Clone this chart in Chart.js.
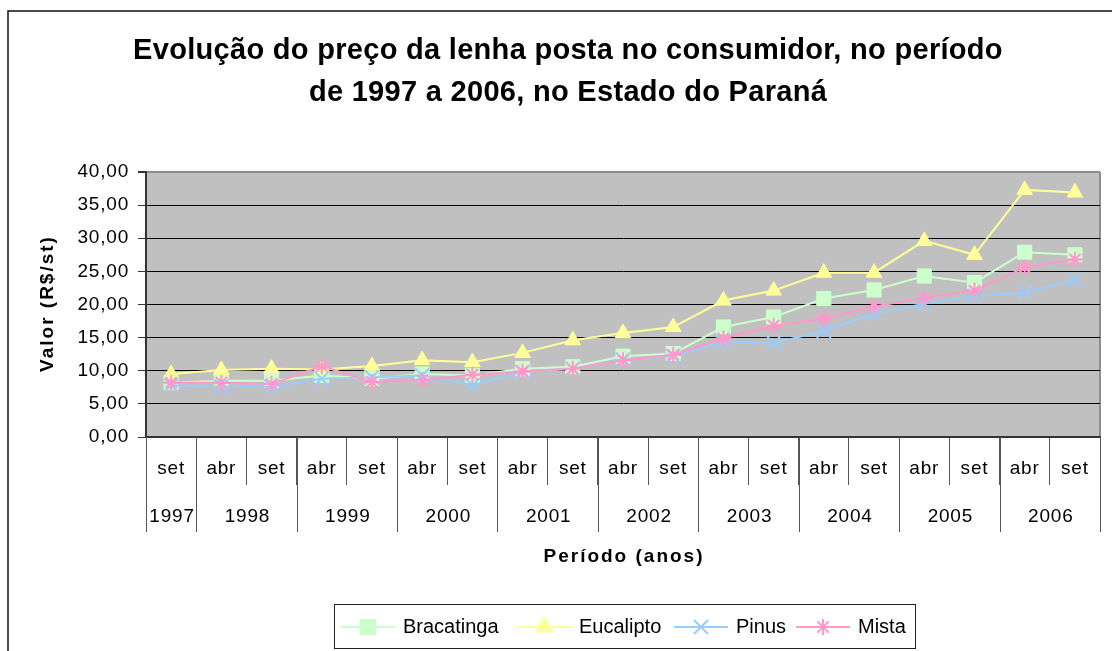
<!DOCTYPE html>
<html>
<head>
<meta charset="utf-8">
<script src="https://cdn.jsdelivr.net/npm/chart.js@4/dist/chart.umd.min.js"></script>
<style>
  body { margin: 0; background: #fff; }
  canvas { display: block; }
</style>
</head>
<body>
<canvas id="chart" width="1112" height="651"></canvas>
<script>
// Chart data
const months = ['set', 'abr', 'set', 'abr', 'set', 'abr', 'set', 'abr', 'set', 'abr',
                'set', 'abr', 'set', 'abr', 'set', 'abr', 'set', 'abr', 'set'];
const years = ['1997', '1998', '1999', '2000', '2001', '2002', '2003', '2004', '2005', '2006'];
const monthsPerYear = [1, 2, 2, 2, 2, 2, 2, 2, 2, 2];

const bracatinga = [8.2, 8.5, 8.5, 9.3, 8.8, 9.5, 9.3, 10.3, 10.6, 12.2, 12.6, 16.6, 18.1, 20.9, 22.2, 24.3, 23.3, 27.9, 27.5];
const eucalipto = [9.5, 10.1, 10.3, 10.2, 10.7, 11.6, 11.3, 12.7, 14.6, 15.7, 16.6, 20.6, 22.1, 24.8, 24.8, 29.6, 27.5, 37.3, 36.9];
const pinus = [7.8, 7.6, 7.6, 8.8, 9.0, 9.3, 7.8, 9.8, 10.3, 11.7, 12.2, 14.4, 14.2, 16.0, 18.6, 20.1, 21.3, 21.8, 23.7];
const mista = [8.2, 8.2, 8.0, 10.7, 8.3, 8.6, 9.4, 9.9, 10.3, 11.6, 12.4, 14.9, 16.8, 17.9, 19.7, 21.0, 22.1, 25.6, 26.8];

const titleLines = ['Evolução do preço da lenha posta no consumidor, no período',
                    'de 1997 a 2006, no Estado do Paraná'];

const FONT = '"Liberation Sans", Arial, sans-serif';

const series = [
    { label: 'Bracatinga', data: bracatinga, color: '#ccffcc', style: 'rect', radius: 10, order: 3, legendX: 368 },
    { label: 'Eucalipto', data: eucalipto, color: '#ffff99', style: 'triangle', radius: 9, order: 2, legendX: 544 },
    { label: 'Pinus', data: pinus, color: '#99ccff', style: 'crossRot', radius: 10, order: 1, legendX: 701 },
    { label: 'Mista', data: mista, color: '#ff99cc', style: 'star', radius: 8, order: 0, legendX: 823 }
];

const filled = (s) => s.style === 'rect' || s.style === 'triangle';

// Background, plot fill, outer frame
const backgroundPlugin = {
    id: 'background',
    beforeDraw(chart) {
        const ctx = chart.ctx;
        const a = chart.chartArea;
        ctx.save();
        ctx.fillStyle = '#fff';
        ctx.fillRect(0, 0, chart.width, chart.height);
        ctx.fillStyle = '#c0c0c0';
        ctx.fillRect(a.left, a.top, a.right - a.left, a.bottom - a.top);
        ctx.strokeStyle = '#8c8c8c';
        ctx.lineWidth = 2;
        ctx.beginPath();
        ctx.moveTo(a.right, a.top);
        ctx.lineTo(a.right, a.bottom);
        ctx.stroke();
        // outer chart frame
        ctx.strokeStyle = '#111';
        ctx.lineWidth = 1.5;
        ctx.beginPath();
        ctx.moveTo(8, chart.height);
        ctx.lineTo(8, 11);
        ctx.lineTo(chart.width, 11);
        ctx.stroke();
        ctx.restore();
        // slightly wider spacing for the axis labels
        ctx.letterSpacing = '0.8px';
    }
};

// Title, year row, axis titles and legend
const decorPlugin = {
    id: 'decor',
    afterDraw(chart) {
        const ctx = chart.ctx;
        const x = chart.scales.x;
        const a = chart.chartArea;
        const step = x.getPixelForValue(1) - x.getPixelForValue(0);
        const edge = (b) => x.getPixelForValue(0) + (b - 0.5) * step;

        ctx.save();

        // title
        ctx.fillStyle = '#000';
        ctx.textAlign = 'center';
        ctx.textBaseline = 'alphabetic';
        ctx.font = 'bold 29px ' + FONT;
        ctx.letterSpacing = '0.3px';
        ctx.fillText(titleLines[0], 568, 59);
        ctx.fillText(titleLines[1], 568, 101);

        // year dividers and labels
        ctx.strokeStyle = '#555';
        ctx.lineWidth = 1;
        ctx.font = '19px ' + FONT;
        ctx.letterSpacing = '0.8px';
        ctx.textBaseline = 'middle';
        let start = 0;
        const drawDivider = (b) => {
            const px = Math.round(edge(b)) + 0.5;
            ctx.beginPath();
            ctx.moveTo(px, a.bottom);
            ctx.lineTo(px, 532);
            ctx.stroke();
        };
        drawDivider(0);
        years.forEach((y, i) => {
            const end = start + monthsPerYear[i];
            drawDivider(end);
            ctx.fillText(y, (edge(start) + edge(end)) / 2 + 1, 517);
            start = end;
        });

        // axis titles
        ctx.font = 'bold 19px ' + FONT;
        ctx.letterSpacing = '2px';
        ctx.fillText('Período (anos)', (a.left + a.right) / 2 + 1, 557);
        ctx.save();
        ctx.translate(48, (a.top + a.bottom) / 2);
        ctx.rotate(-Math.PI / 2);
        ctx.fillText('Valor (R$/st)', 1, 0);
        ctx.restore();

        // legend box
        ctx.letterSpacing = '0px';
        ctx.strokeStyle = '#222';
        ctx.lineWidth = 1;
        ctx.strokeRect(334.5, 604.5, 581, 44);
        ctx.font = '20px ' + FONT;
        ctx.textAlign = 'left';
        const ly = 627;
        series.forEach((s) => {
            ctx.strokeStyle = s.color;
            ctx.lineWidth = 2;
            ctx.beginPath();
            ctx.moveTo(s.legendX - 27, ly);
            ctx.lineTo(s.legendX + 27, ly);
            ctx.stroke();
            Chart.helpers.drawPoint(ctx, {
                pointStyle: s.style,
                radius: s.radius,
                borderWidth: filled(s) ? 1 : 2
            }, s.legendX, ly);
            if (filled(s)) {
                ctx.fillStyle = s.color;
                ctx.fill();
            }
            ctx.fillStyle = '#000';
            ctx.fillText(s.label, s.legendX + 35, ly);
        });
        ctx.restore();
    }
};

const ctx = document.getElementById('chart').getContext('2d');
new Chart(ctx, {
    type: 'line',
    data: {
        labels: months,
        datasets: series.map((s) => ({
            label: s.label,
            data: s.data,
            borderColor: s.color,
            backgroundColor: s.color,
            borderWidth: 2,
            pointStyle: s.style,
            pointRadius: s.radius,
            pointBorderWidth: filled(s) ? 1 : 2,
            pointBackgroundColor: s.color,
            pointBorderColor: s.color,
            tension: 0,
            fill: false,
            order: s.order
        }))
    },
    options: {
        responsive: false,
        animation: false,
        layout: { padding: { top: 172, right: 8, bottom: 0, left: 0 } },
        plugins: {
            legend: { display: false },
            title: { display: false },
            tooltip: { enabled: false }
        },
        scales: {
            x: {
                type: 'category',
                offset: true,
                afterFit: (scale) => { scale.height = 651 - 437; },
                grid: {
                    offset: true,
                    drawOnChartArea: false,
                    tickLength: 48,
                    color: '#555',
                    lineWidth: 1
                },
                border: { color: '#333', width: 2 },
                ticks: {
                    autoSkip: false,
                    maxRotation: 0,
                    padding: -28,
                    color: '#000',
                    font: { family: FONT, size: 19 }
                }
            },
            y: {
                min: 0,
                max: 40,
                afterFit: (scale) => { scale.width = 146; },
                grid: {
                    color: (c) => (c.tick && c.tick.value === 40 ? '#8c8c8c' : '#000'),
                    lineWidth: (c) => (c.tick && c.tick.value === 40 ? 2 : 1),
                    tickLength: 8,
                    tickColor: '#333'
                },
                border: { color: '#333', width: 2 },
                ticks: {
                    stepSize: 5,
                    padding: 9,
                    color: '#000',
                    font: { family: FONT, size: 19 },
                    callback: (v) => v.toFixed(2).replace('.', ',')
                }
            }
        }
    },
    plugins: [backgroundPlugin, decorPlugin]
});
</script>
</body>
</html>
